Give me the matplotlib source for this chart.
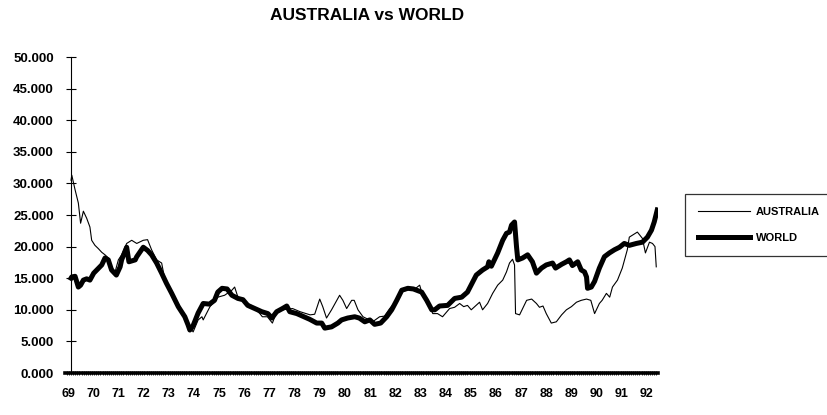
import numpy as np
import matplotlib.pyplot as plt
from matplotlib.ticker import FixedLocator, MultipleLocator

plt.rcParams['font.family'] = ['Liberation Sans', 'DejaVu Sans']

# === Data ===
aus_t = [69.00, 69.03, 69.16, 69.29, 69.38, 69.49, 69.62, 69.75, 69.82, 69.95,
         70.08, 70.22, 70.35, 70.48, 70.61, 70.75, 70.88, 71.01, 71.21, 71.41,
         71.61, 71.87, 72.04, 72.20, 72.40, 72.60, 72.73, 73.00, 73.33, 73.59,
         73.72, 73.85, 74.05, 74.20, 74.25, 74.52, 74.83, 75.10, 75.39, 75.50,
         75.63, 75.90, 76.20, 76.50, 76.60, 76.80, 77.00, 77.17, 77.40, 77.80,
         78.10, 78.50, 78.68, 78.88, 79.00, 79.15, 79.35, 79.67, 79.80, 79.95,
         80.15, 80.25, 80.40, 80.60, 80.80, 80.98, 81.26, 81.45, 81.66, 81.94,
         82.14, 82.38, 82.60, 82.85, 82.97, 83.17, 83.37, 83.56, 83.76, 84.04,
         84.24, 84.44, 84.60, 84.75, 84.90, 85.23, 85.35, 85.55, 85.75, 85.95,
         86.15, 86.30, 86.42, 86.54, 86.62, 86.66, 86.82, 87.10, 87.30, 87.49,
         87.61, 87.75, 87.88, 88.08, 88.28, 88.49, 88.68, 88.88, 89.08, 89.27,
         89.48, 89.65, 89.80, 89.99, 90.10, 90.27, 90.40, 90.51, 90.71, 90.90,
         91.10, 91.18, 91.30, 91.50, 91.70, 91.82, 91.98, 92.10, 92.20, 92.25]
aus_v = [30.5, 31.3, 29.0, 26.9, 23.7, 25.6, 24.5, 23.1, 21.0, 20.2,
         19.7, 19.1, 18.7, 18.2, 16.8, 16.0, 17.9, 18.7, 20.5, 21.0,
         20.5, 21.0, 21.1, 19.5, 17.9, 17.4, 14.7, 12.6, 10.5, 7.9,
         7.3, 6.5, 8.4, 8.9, 8.4, 10.5, 12.0, 12.3, 13.1, 13.6,
         12.0, 11.3, 10.6, 9.4, 8.9, 8.9, 7.9, 9.7, 10.0, 10.2,
         9.7, 9.2, 9.3, 11.7, 10.5, 8.7, 10.0, 12.3, 11.5, 10.2,
         11.5, 11.5, 10.0, 8.9, 8.5, 8.1, 8.9, 9.0, 10.2, 11.5,
         12.8, 13.2, 13.1, 13.9, 12.3, 11.5, 9.4, 9.4, 8.9, 10.2,
         10.4, 11.0, 10.5, 10.7, 10.0, 11.2, 10.0, 11.0, 12.6, 13.9,
         14.7, 16.0, 17.4, 18.0, 17.1, 9.4, 9.2, 11.5, 11.7, 11.0,
         10.4, 10.6, 9.4, 7.9, 8.1, 9.2, 10.0, 10.5, 11.2, 11.5,
         11.7, 11.5, 9.4, 11.0, 11.5, 12.6, 12.0, 13.6, 14.7, 16.6,
         19.5, 21.5, 21.8, 22.3, 21.3, 19.0, 20.7, 20.5, 20.0, 16.8]

world_t = [69.00, 69.03, 69.16, 69.29, 69.38, 69.49, 69.62, 69.75, 69.90, 70.22,
           70.35, 70.48, 70.61, 70.80, 70.95, 71.01, 71.21, 71.30, 71.55, 71.61,
           71.87, 72.04, 72.20, 72.40, 72.60, 72.79, 73.00, 73.26, 73.52, 73.65,
           73.72, 73.85, 74.05, 74.25, 74.50, 74.70, 74.83, 75.00, 75.20, 75.39,
           75.63, 75.83, 76.02, 76.30, 76.58, 76.82, 76.98, 77.17, 77.40, 77.57,
           77.69, 77.97, 78.20, 78.48, 78.76, 78.96, 79.08, 79.35, 79.60, 79.75,
           79.99, 80.27, 80.45, 80.67, 80.87, 81.06, 81.30, 81.54, 81.74, 81.94,
           82.14, 82.38, 82.60, 82.93, 83.13, 83.33, 83.45, 83.64, 83.96, 84.24,
           84.52, 84.75, 84.96, 85.10, 85.35, 85.55, 85.60, 85.70, 85.95, 86.15,
           86.30, 86.42, 86.50, 86.62, 86.70, 86.75, 86.94, 87.14, 87.33, 87.49,
           87.69, 87.88, 88.13, 88.25, 88.49, 88.68, 88.80, 88.92, 89.13, 89.27,
           89.40, 89.48, 89.52, 89.67, 89.80, 89.99, 90.19, 90.39, 90.59, 90.79,
           90.98, 91.18, 91.46, 91.70, 91.90, 92.06, 92.17, 92.29]
world_v = [15.0, 15.2, 15.3, 13.6, 13.9, 14.7, 14.9, 14.7, 15.8, 17.1,
           18.2, 17.9, 16.3, 15.5, 16.8, 17.9, 19.9, 17.6, 17.9, 18.4,
           19.9, 19.4, 18.7, 17.4, 15.8, 14.2, 12.6, 10.5, 8.9, 7.6,
           6.8, 7.5, 9.5, 11.0, 10.9, 11.5, 12.8, 13.4, 13.3, 12.3,
           11.8, 11.6, 10.7, 10.2, 9.7, 9.4, 8.7, 9.7, 10.2, 10.6,
           9.7, 9.4, 9.0, 8.5, 7.9, 7.9, 7.1, 7.3, 7.9, 8.4,
           8.7, 8.9, 8.7, 8.1, 8.4, 7.7, 7.9, 8.9, 10.0, 11.5,
           13.1, 13.4, 13.3, 12.8, 11.5, 10.0, 10.0, 10.6, 10.7, 11.8,
           12.0, 12.8, 14.4, 15.5, 16.3, 16.8, 17.6, 16.9, 19.0, 21.0,
           22.1, 22.3, 23.4, 23.9, 19.9, 17.9, 18.2, 18.7, 17.6, 15.8,
           16.6, 17.1, 17.4, 16.6, 17.2, 17.6, 17.9, 17.0, 17.6, 16.3,
           16.0, 15.2, 13.4, 13.6, 14.5, 16.6, 18.4, 19.0, 19.5, 19.9,
           20.5, 20.2, 20.5, 20.7, 21.5, 22.6, 23.9, 25.8]

years = list(range(69, 93))
y_ticks = [0, 5, 10, 15, 20, 25, 30, 35, 40, 45, 50]

# === Figure ===
fig = plt.figure(figsize=(8.28, 4.15), dpi=100)
ax = fig.add_axes([0.0785, 0.1012, 0.7162, 0.7614])

ax.plot(aus_t, aus_v, color="black", linewidth=0.8, label="AUSTRALIA")
ax.plot(world_t, world_v, color="black", linewidth=3.6, label="WORLD",
        solid_joinstyle="round")

ax.set_xlim(68.76, 92.32)
ax.set_ylim(0, 50)

# axes styling
for s in ("top", "right"):
    ax.spines[s].set_visible(False)
ax.spines["left"].set_position(("data", 69.0))
ax.spines["left"].set_linewidth(0.8)
ax.spines["bottom"].set_linewidth(2.6)

ax.yaxis.set_major_locator(FixedLocator(y_ticks))
ax.set_yticklabels([f"{v:.3f}" for v in y_ticks])
ax.tick_params(axis="y", direction="inout", length=7, width=0.8, pad=9,
               labelsize=9.5)
for lab in ax.get_yticklabels():
    lab.set_fontweight("bold")

ax.xaxis.set_major_locator(FixedLocator([y - 0.12 for y in years]))
ax.set_xticklabels([str(y) for y in years])
ax.xaxis.set_minor_locator(MultipleLocator(1 / 12))
ax.tick_params(axis="x", which="major", length=0, pad=11, labelsize=9)
ax.tick_params(axis="x", which="minor", direction="inout", length=3, width=0.6)
for lab in ax.get_xticklabels():
    lab.set_fontweight("bold")

fig.text(0.443, 0.962, "AUSTRALIA vs WORLD", ha="center", va="center",
         fontsize=12.5, fontweight="bold")

leg = ax.legend(loc="upper left", bbox_to_anchor=(0.820, 0.547),
                bbox_transform=fig.transFigure, frameon=True, fancybox=False,
                handlelength=4.7, handletextpad=0.55, borderpad=1.2,
                labelspacing=1.45, prop={"weight": "bold", "size": 8})
leg.get_frame().set_edgecolor("black")
leg.get_frame().set_linewidth(0.9)

fig.savefig("out.png", dpi=100)
